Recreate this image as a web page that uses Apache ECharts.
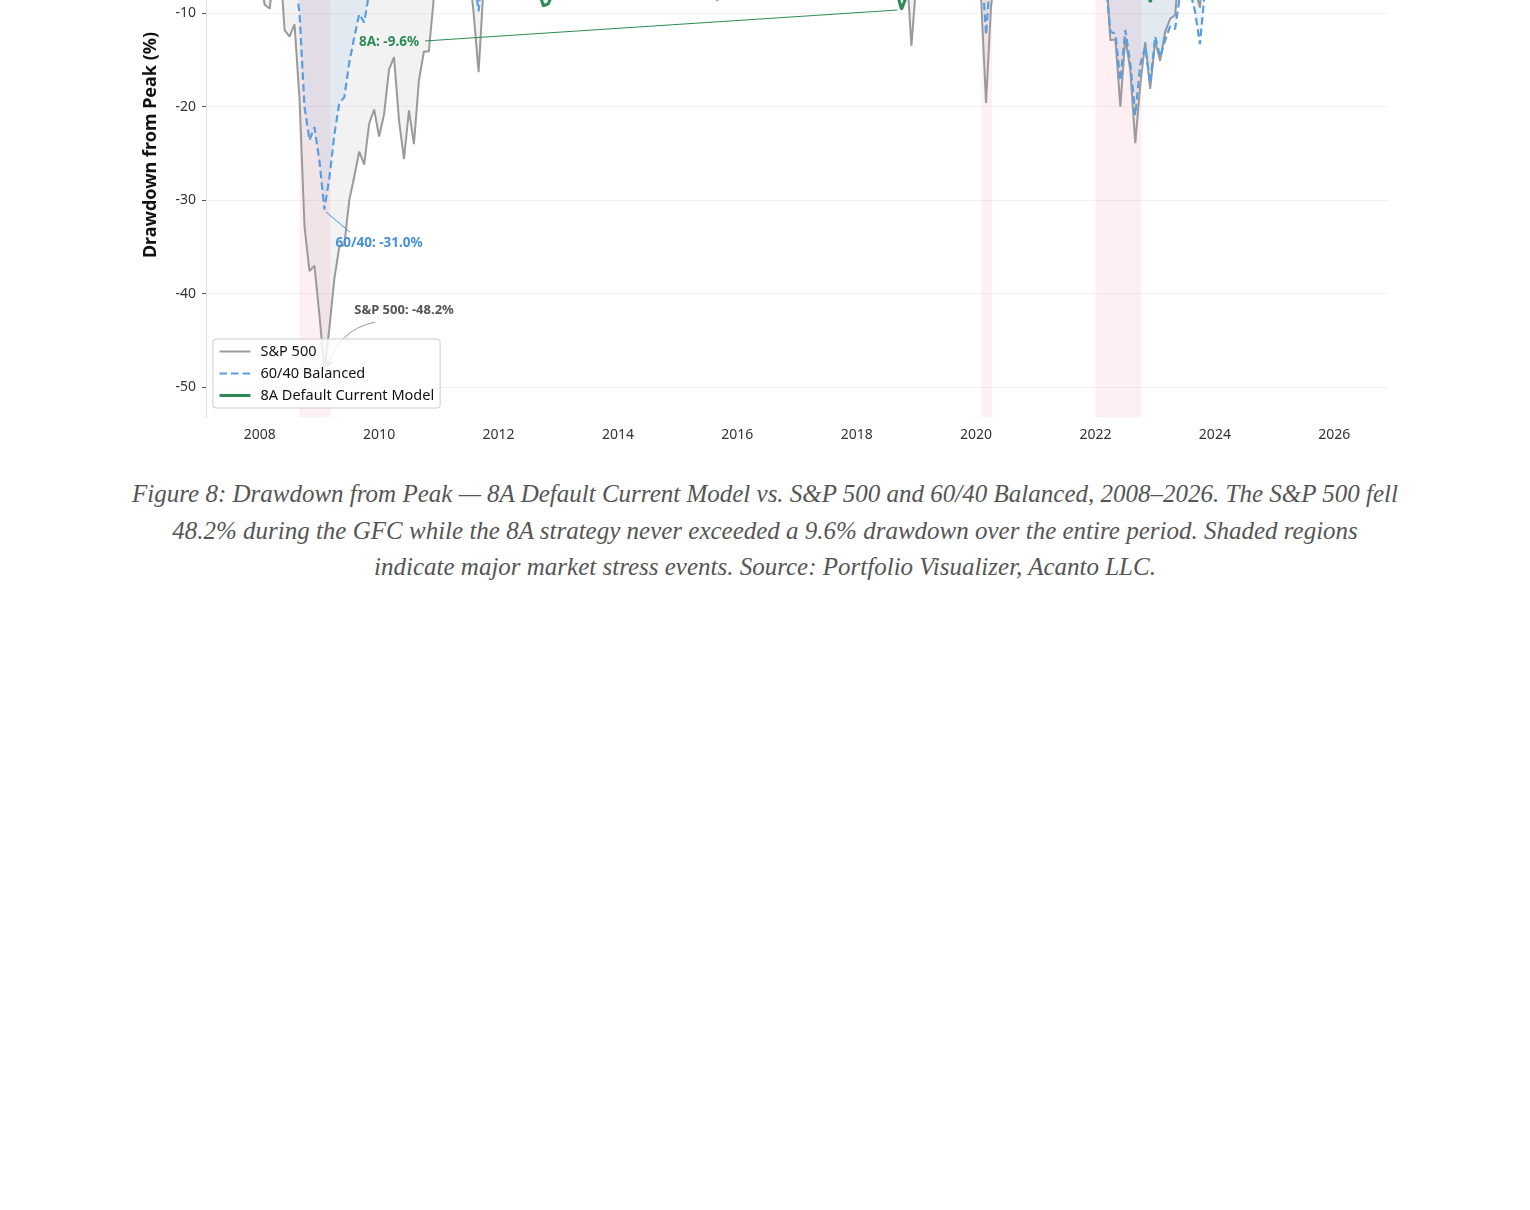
<!DOCTYPE html>
<html>
<head>
<meta charset="utf-8">
<script src="https://cdn.jsdelivr.net/npm/echarts@6/dist/echarts.min.js"></script>
<style>
  html, body { margin: 0; padding: 0; background: #ffffff; overflow: hidden; }
  body { width: 1530px; height: 1210px; position: relative; }
  #chart { position: absolute; left: 0; top: -160px; width: 1530px; height: 620px; }
  #caption {
    position: absolute; left: 0; top: 476px; width: 1530px; text-align: center;
    font-family: "Liberation Serif", "Times New Roman", serif; font-style: italic;
    font-size: 25px; line-height: 36.5px; color: #555555;
  }
  #caption span { display: inline-block; width: 1272px; }
</style>
</head>
<body>
<div id="chart"></div>
<div id="caption"><span>Figure 8: Drawdown from Peak — 8A Default Current Model vs. S&amp;P 500 and 60/40 Balanced, 2008–2026. The S&amp;P 500 fell 48.2% during the GFC while the 8A strategy never exceeded a 9.6% drawdown over the entire period. Shaded regions indicate major market stress events. Source: Portfolio Visualizer, Acanto LLC.</span></div>
<script>
// Monthly drawdown from peak (%), Jan 2008 ... Jan 2026
const START_YEAR = 2008;

const sp500 = [
  -6.0, -9.1, -9.5, -5.1, -3.9, -11.8, -12.5, -11.2, -19.2, -32.8, -37.6, -37.0,
  -42.3, -48.2, -43.7, -38.4, -35.0, -34.8, -30.0, -27.5, -24.8, -26.2, -21.8, -20.3,
  -23.2, -20.8, -16.0, -14.7, -21.5, -25.6, -20.4, -24.0, -17.2, -14.1, -14.1, -8.3,
  -6.2, -2.9, -2.9, 0.0, -1.2, -2.8, -4.8, -10.0, -16.3, -7.1, -7.3, -6.4,
  -2.2, 0.0, 0.0, -0.6, -6.6, -2.8, -1.4, 0.0, 0.0, -1.8, -1.3, -0.4,
  0.0, 0.0, 0.0, 0.0, 0.0, -1.3, 0.0, -2.9, -0.1, 0.0, 0.0, 0.0,
  -3.5, 0.0, 0.0, 0.0, 0.0, 0.0, -1.4, 0.0, -1.4, 0.0, 0.0, -0.3,
  -3.3, 0.0, -1.6, -0.6, 0.0, -1.9, -0.2, -6.2, -8.7, -0.8, -0.5, -2.1,
  -6.9, -7.0, -0.7, -0.3, 0.0, 0.0, 0.0, 0.0, 0.0, -1.8, 0.0, 0.0,
  0.0, 0.0, 0.0, 0.0, 0.0, 0.0, 0.0, 0.0, 0.0, 0.0, 0.0, 0.0,
  0.0, -3.7, -6.1, -5.7, -3.4, -2.8, 0.0, 0.0, 0.0, -6.8, -4.9, -13.5,
  -6.6, -3.6, -1.7, 0.0, -6.4, 0.0, 0.0, -1.6, 0.0, 0.0, 0.0, 0.0,
  -0.2, -8.3, -19.6, -9.3, -5.0, -3.1, 0.0, 0.0, -3.8, -6.4, 0.0, 0.0,
  -1.0, 0.0, 0.0, 0.0, 0.0, 0.0, 0.0, 0.0, -4.7, 0.0, -0.7, 0.0,
  -5.2, -8.0, -4.6, -12.9, -12.8, -20.0, -12.6, -16.1, -23.9, -17.7, -13.1, -18.1,
  -13.0, -15.1, -12.0, -10.6, -10.2, -4.3, -1.2, -2.8, -7.4, -9.4, -1.1, 0.0,
  0.0, 0.0, 0.0, -4.1, 0.0, 0.0, 0.0, 0.0, 0.0, -0.9, 0.0, -2.4,
  0.0, -1.3, -6.9, -7.5, -1.7, 0.0, 0.0, 0.0, 0.0, 0.0, 0.0, 0.0,
  0.0
];

const balanced6040 = [
  -2.9, -4.7, -4.9, -2.2, -1.7, -6.7, -7.2, -6.0, -10.0, -20.0, -23.6, -22.2,
  -25.8, -31.0, -27.6, -23.0, -19.6, -19.0, -15.3, -12.6, -10.1, -11.0, -7.8, -7.3,
  -8.3, -6.9, -3.6, -2.4, -6.8, -8.4, -4.4, -6.2, -1.5, 0.0, -0.6, 0.0,
  0.0, 0.0, 0.0, 0.0, -0.5, -1.6, -2.6, -5.8, -9.8, -3.6, -4.0, -3.2,
  -0.4, 0.0, 0.0, -0.2, -3.5, -1.0, 0.0, 0.0, 0.0, -0.8, -0.5, -0.3,
  0.0, 0.0, 0.0, 0.0, -0.9, -2.8, -0.4, -2.6, -0.2, 0.0, 0.0, 0.0,
  -1.5, 0.0, 0.0, 0.0, 0.0, 0.0, -0.8, 0.0, -1.2, 0.0, 0.0, -0.1,
  -1.0, 0.0, -0.9, -0.8, -0.6, -2.1, -1.0, -4.5, -6.0, -1.4, -1.3, -2.5,
  -5.2, -5.0, -1.2, -0.6, 0.0, 0.0, 0.0, 0.0, 0.0, -1.6, -0.7, 0.0,
  0.0, 0.0, 0.0, 0.0, 0.0, 0.0, 0.0, 0.0, 0.0, 0.0, 0.0, 0.0,
  0.0, -3.0, -4.2, -4.4, -3.0, -2.6, -0.9, 0.0, -0.3, -5.1, -4.2, -8.2,
  -3.3, -1.5, 0.0, 0.0, -2.6, 0.0, 0.0, 0.0, 0.0, 0.0, 0.0, 0.0,
  0.0, -3.8, -12.3, -5.1, -2.3, -0.8, 0.0, 0.0, -2.4, -4.1, 0.0, 0.0,
  -0.9, -0.8, -0.1, 0.0, 0.0, 0.0, 0.0, 0.0, -3.0, 0.0, -0.6, 0.0,
  -4.0, -6.0, -6.3, -12.0, -12.2, -17.2, -11.8, -15.4, -20.9, -15.5, -13.6, -17.5,
  -12.5, -14.7, -12.9, -11.4, -11.7, -8.0, -6.4, -7.6, -9.8, -13.3, -7.5, -3.2,
  -4.0, -2.5, -0.8, -4.5, -1.8, -0.6, 0.0, 0.0, 0.0, -2.2, -0.5, -2.8,
  -1.2, -0.9, -4.2, -4.6, -1.0, 0.0, 0.0, 0.0, 0.0, 0.0, 0.0, -0.2,
  0.0
];

const model8A = [
  0.0, -1.2, -0.8, 0.0, 0.0, -2.5, -3.1, -2.8, -4.0, -5.2, -3.9, -2.1,
  -3.5, -4.6, -3.0, -1.5, 0.0, -0.8, 0.0, 0.0, 0.0, -1.1, 0.0, -0.6,
  -2.4, -1.0, 0.0, 0.0, -3.8, -4.9, -2.2, -3.4, -0.5, 0.0, -0.7, 0.0,
  0.0, 0.0, 0.0, 0.0, -0.9, -2.1, -1.4, -3.6, -5.8, -3.0, -3.4, -2.6,
  -0.8, 0.0, 0.0, -1.1, -5.3, -6.2, -5.5, -6.8, -7.4, -9.2, -9.0, -7.8,
  -6.5, -5.0, -3.8, -2.2, -3.0, -5.1, -3.6, -4.9, -3.1, -1.5, -0.4, 0.0,
  -1.8, 0.0, 0.0, -0.4, 0.0, 0.0, -0.9, 0.0, -1.3, -0.6, 0.0, -0.5,
  -0.9, 0.0, -1.2, -1.0, -0.8, -2.6, -1.9, -4.8, -5.9, -3.2, -3.5, -4.4,
  -5.6, -5.1, -2.4, -1.8, -1.2, 0.0, 0.0, 0.0, -0.4, -1.9, -1.2, -0.3,
  0.0, 0.0, 0.0, 0.0, 0.0, 0.0, 0.0, 0.0, 0.0, 0.0, 0.0, 0.0,
  0.0, -3.4, -4.6, -4.1, -3.3, -3.9, -2.5, -2.2, -7.6, -9.6, -8.2, -6.4,
  -4.8, -3.6, -2.4, -1.1, -2.9, -0.8, 0.0, 0.0, -0.6, 0.0, 0.0, 0.0,
  0.0, -2.7, -5.9, -3.4, -1.6, -0.9, 0.0, 0.0, -1.8, -3.0, -0.5, 0.0,
  0.0, -0.6, 0.0, 0.0, 0.0, 0.0, 0.0, 0.0, -2.2, 0.0, -0.9, 0.0,
  -3.5, -4.6, -4.0, -6.8, -6.5, -7.9, -5.4, -6.9, -8.2, -7.2, -6.1, -8.8,
  -7.2, -7.9, -6.3, -5.5, -5.8, -3.6, -2.4, -3.3, -5.1, -6.0, -2.7, -0.4,
  0.0, 0.0, 0.0, -2.6, -0.8, 0.0, 0.0, 0.0, 0.0, -1.1, 0.0, -1.5,
  -0.3, -1.0, -3.9, -4.5, -1.9, -0.4, 0.0, 0.0, 0.0, 0.0, 0.0, 0.0,
  0.0
];

// Shaded stress periods [start, end] in decimal years
const stressPeriods = [[2008.667, 2009.185], [2020.09, 2020.27], [2022.005, 2022.77]];

const xTicks = [2008, 2010, 2012, 2014, 2016, 2018, 2020, 2022, 2024, 2026];
const yTicks = [-50, -40, -30, -20, -10, 0];

const seriesNames = ['S&P 500', '60/40 Balanced', '8A Default Current Model'];

const toPairs = arr => arr.map((v, i) => [START_YEAR + i / 12, v]);

const FONT = '"Noto Sans", "Open Sans", sans-serif';
const C_SP = '#9a9a9a', C_BAL = '#5a9ee0', C_BAL_TXT = '#4a90d9', C_8A = '#2e8b57';

const chart = echarts.init(document.getElementById('chart'), null, { renderer: 'canvas' });

chart.setOption({
  animation: false,
  backgroundColor: '#ffffff',
  textStyle: { fontFamily: FONT },
  grid: { left: 206, right: 142, top: 33, height: 544, containLabel: false },
  legend: {
    orient: 'vertical', left: 213, top: 499, z: 20,
    padding: [5, 6, 5, 5], itemGap: 7, itemWidth: 31, itemHeight: 14,
    backgroundColor: 'rgba(255,255,255,0.82)', borderColor: '#cccccc', borderWidth: 1, borderRadius: 3,
    itemStyle: { opacity: 0 },
    textStyle: { fontFamily: FONT, fontSize: 14.5, color: '#111111', padding: [0, 0, 0, 5] },
    data: [
      { name: seriesNames[0], lineStyle: { width: 2 } },
      { name: seriesNames[1], lineStyle: { width: 2.2 } },
      { name: seriesNames[2], lineStyle: { width: 3 } }
    ]
  },
  xAxis: {
    type: 'value', min: 2007.1, max: 2026.9,
    axisLine: { show: true, lineStyle: { color: '#dddddd', width: 1 } },
    axisTick: { show: true, length: 4, lineStyle: { color: '#555555' }, customValues: xTicks },
    axisLabel: { customValues: xTicks, margin: 11, fontSize: 14, color: '#333333', fontFamily: FONT, formatter: v => String(v) },
    splitLine: { show: false }
  },
  yAxis: {
    type: 'value', min: -53.2, max: 5,
    name: 'Drawdown from Peak (%)', nameLocation: 'middle', nameGap: 46,
    nameTextStyle: { fontFamily: FONT, fontSize: 18, fontWeight: 'bold', color: '#111111' },
    axisLine: { show: true, lineStyle: { color: '#dddddd', width: 1 } },
    axisTick: { show: true, length: 4, lineStyle: { color: '#555555' }, customValues: yTicks },
    axisLabel: { customValues: yTicks, margin: 10, fontSize: 14, color: '#333333', fontFamily: FONT, formatter: v => String(v) },
    splitLine: { show: true, lineStyle: { color: '#f2f2f2', width: 1 } }
  },
  series: [
    {
      name: seriesNames[0], type: 'line', data: toPairs(sp500), z: 2,
      symbol: 'none', showSymbol: false,
      lineStyle: { color: C_SP, width: 2 }, itemStyle: { color: C_SP },
      areaStyle: { color: 'rgba(150,150,150,0.18)', origin: 0 },
      markArea: {
        silent: true,
        itemStyle: { color: 'rgba(220,20,60,0.065)' },
        data: stressPeriods.map(p => [{ xAxis: p[0] }, { xAxis: p[1] }])
      },
      markPoint: {
        silent: true, symbol: 'circle', symbolSize: 0,
        label: { show: true, position: 'inside', fontFamily: FONT, fontSize: 13, fontWeight: 'bold', color: '#555555' },
        data: [{ coord: [2010.417, -41.75], value: 'S&P 500: -48.2%', label: { formatter: 'S&P 500: -48.2%' } }]
      }
    },
    {
      name: seriesNames[1], type: 'line', data: toPairs(balanced6040), z: 3,
      symbol: 'none', showSymbol: false,
      lineStyle: { color: C_BAL, width: 2.2, type: [7.5, 4] }, itemStyle: { color: C_BAL },
      areaStyle: { color: 'rgba(74,144,217,0.12)', origin: 0 },
      markLine: {
        silent: true, animation: false, symbol: ['none', 'arrow'], symbolSize: [0, 7],
        label: { show: false },
        lineStyle: { color: C_BAL_TXT, width: 1, type: 'solid' },
        data: [[{ coord: [2009.51, -33.41] }, { coord: [2009.11, -31.27] }]]
      },
      markPoint: {
        silent: true, symbol: 'circle', symbolSize: 0,
        label: { show: true, position: 'inside', fontFamily: FONT, fontSize: 13.5, fontWeight: 'bold', color: C_BAL_TXT },
        data: [{ coord: [2010.0, -34.59], value: '60/40: -31.0%', label: { formatter: '60/40: -31.0%' } }]
      }
    },
    {
      name: seriesNames[2], type: 'line', data: toPairs(model8A), z: 4,
      symbol: 'none', showSymbol: false,
      lineStyle: { color: C_8A, width: 3 }, itemStyle: { color: C_8A },
      areaStyle: { color: 'rgba(46,139,87,0.15)', origin: 0 },
      markLine: {
        silent: true, animation: false, symbol: ['none', 'arrow'], symbolSize: [0, 7],
        label: { show: false },
        lineStyle: { color: C_8A, width: 1, type: 'solid' },
        data: [[{ coord: [2010.77, -12.97] }, { coord: [2018.68, -9.66] }]]
      },
      markPoint: {
        silent: true, symbol: 'circle', symbolSize: 0,
        label: { show: true, position: 'inside', fontFamily: FONT, fontSize: 13.5, fontWeight: 'bold', color: C_8A },
        data: [{ coord: [2010.166, -13.08], value: '8A: -9.6%', label: { formatter: '8A: -9.6%' } }]
      }
    },
    {
      name: 'S&P 500 annotation', type: 'lines', coordinateSystem: 'cartesian2d', z: 5,
      silent: true, animation: false,
      symbol: ['none', 'arrow'], symbolSize: [0, 7],
      lineStyle: { color: '#8a8a8a', width: 0.9, type: 'solid', curveness: -0.3, opacity: 1 },
      data: [{ coords: [[2009.93, -43.05], [2009.13, -47.87]] }]
    }
  ]
});
</script>
</body>
</html>
